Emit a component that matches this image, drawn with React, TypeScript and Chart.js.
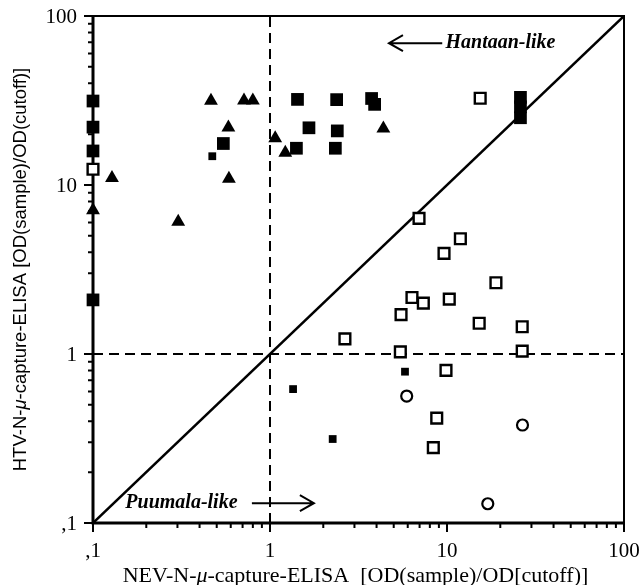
import React, { useEffect, useRef } from 'react';
import { Chart, registerables } from 'chart.js';

Chart.register(...registerables);

// ---- axis ticks ----
const decadeTicks = [0.1, 1, 10, 100];
const decadeLabels = [',1', '1', '10', '100'];
const minorMultipliers = [2, 3, 4, 5, 6, 7, 8, 9];

// ---- series (x = NEV ratio, y = HTV ratio) ----
const bigFilledSqX = [0.1, 0.1, 0.1, 0.1, 0.545, 1.43, 2.38, 3.75, 3.9, 1.66, 2.4, 1.41, 2.34, 26, 26, 26];
const bigFilledSqY = [31.4, 22, 15.9, 2.09, 17.6, 32.1, 32, 32.5, 30, 21.8, 20.9, 16.5, 16.5, 33, 29, 25];

const smallFilledSqX = [0.472, 1.35, 2.26, 5.79];
const smallFilledSqY = [14.8, 0.62, 0.314, 0.786];

const triangleX = [0.1, 0.128, 0.303, 0.464, 0.582, 0.586, 0.713, 0.8, 1.07, 1.22, 4.37];
const triangleY = [7.1, 11.0, 6.07, 31.5, 21.9, 10.9, 31.6, 31.6, 18.9, 15.5, 21.6];

const openSqX = [0.1, 15.4, 6.95, 11.9, 9.62, 18.9, 6.34, 7.35, 10.3, 5.5, 15.2, 26.6, 2.65, 5.45, 26.6, 9.87, 8.75, 8.37];
const openSqY = [12.4, 32.6, 6.35, 4.81, 3.94, 2.64, 2.16, 2.0, 2.11, 1.71, 1.52, 1.45, 1.23, 1.03, 1.04, 0.8, 0.417, 0.279];

const openCircleX = [5.92, 26.7, 17.0];
const openCircleY = [0.564, 0.38, 0.13];

// reference lines
const diagonalX = [0.1, 100];
const diagonalY = [0.1, 100];
const cutoff = 1;
const axisMin = 0.1;
const axisMax = 100;

const xTitleParts = [
  { t: 'NEV-N-', i: false },
  { t: 'μ', i: true },
  { t: '-capture-ELISA  [OD(sample)/OD[cutoff)]', i: false },
];
const yTitleParts = [
  { t: 'HTV-N-', i: false },
  { t: 'μ', i: true },
  { t: '-capture-ELISA [OD(sample)/OD(cutoff)]', i: false },
];

const zip = (xs: number[], ys: number[]) => xs.map((x, i) => ({ x, y: ys[i] }));

const SERIF = '"Liberation Serif", "DejaVu Serif", serif';
const SANS = '"Liberation Sans", Arial, sans-serif';

function drawRich(ctx: CanvasRenderingContext2D, parts: { t: string; i: boolean }[], size: number, family: string) {
  const widths = parts.map((p) => {
    ctx.font = `${p.i ? 'italic ' : ''}${size}px ${family}`;
    return ctx.measureText(p.t).width;
  });
  const total = widths.reduce((a, b) => a + b, 0);
  let cx = -total / 2;
  parts.forEach((p, k) => {
    ctx.font = `${p.i ? 'italic ' : ''}${size}px ${family}`;
    ctx.fillText(p.t, cx, 0);
    cx += widths[k];
  });
}

const framePlugin = {
  id: 'frameTicks',
  beforeDatasetsDraw(chart: any) {
    const { ctx, chartArea: a, scales } = chart;
    const xs = scales.x;
    const ys = scales.y;
    ctx.save();
    ctx.strokeStyle = '#000';
    ctx.lineWidth = 2;
    ctx.strokeRect(a.left, a.top, a.right - a.left, a.bottom - a.top);
    ctx.lineWidth = 3;
    ctx.beginPath();
    ctx.moveTo(a.left, a.top);
    ctx.lineTo(a.left, a.bottom);
    ctx.lineTo(a.right, a.bottom);
    ctx.stroke();
    ctx.lineWidth = 2;
    const vals: { v: number; major: boolean }[] = [];
    decadeTicks.forEach((d, k) => {
      vals.push({ v: d, major: true });
      if (k < decadeTicks.length - 1) minorMultipliers.forEach((m) => vals.push({ v: d * m, major: false }));
    });
    ctx.beginPath();
    vals.forEach(({ v, major }) => {
      const px = xs.getPixelForValue(v);
      ctx.moveTo(px, a.bottom);
      ctx.lineTo(px, a.bottom + (major ? 9 : 5));
      const py = ys.getPixelForValue(v);
      ctx.moveTo(a.left - (major ? 9 : 5), py);
      ctx.lineTo(a.left, py);
    });
    ctx.stroke();
    ctx.restore();
  },
  afterDraw(chart: any) {
    const { ctx, chartArea: a, scales } = chart;
    const xs = scales.x;
    const ys = scales.y;
    ctx.save();
    ctx.fillStyle = '#000';
    ctx.strokeStyle = '#000';
    ctx.font = `21px ${SERIF}`;
    // tick labels
    decadeTicks.forEach((v, k) => {
      ctx.textAlign = 'center';
      ctx.textBaseline = 'middle';
      ctx.fillText(decadeLabels[k], xs.getPixelForValue(v), a.bottom + 28);
      ctx.textAlign = 'right';
      ctx.fillText(decadeLabels[k], a.left - 16, ys.getPixelForValue(v) + 1);
    });
    // axis titles
    ctx.textAlign = 'left';
    ctx.textBaseline = 'middle';
    ctx.save();
    ctx.translate((a.left + a.right) / 2 - 3, a.bottom + 53);
    drawRich(ctx, xTitleParts, 22, SERIF);
    ctx.restore();
    ctx.save();
    ctx.translate(21, (a.top + a.bottom) / 2);
    ctx.rotate(-Math.PI / 2);
    drawRich(ctx, yTitleParts, 18.5, SANS);
    ctx.restore();

    // annotations
    ctx.font = `italic bold 20px ${SERIF}`;
    ctx.textBaseline = 'middle';
    const hy = ys.getPixelForValue(69);
    const hTip = xs.getPixelForValue(4.7);
    const hTail = xs.getPixelForValue(9.4);
    ctx.textAlign = 'left';
    ctx.fillText('Hantaan-like', xs.getPixelForValue(9.8), hy);
    ctx.lineWidth = 2;
    ctx.beginPath();
    ctx.moveTo(hTail, hy);
    ctx.lineTo(hTip, hy);
    ctx.moveTo(hTip + 14, hy - 8);
    ctx.lineTo(hTip, hy);
    ctx.lineTo(hTip + 14, hy + 8);
    ctx.stroke();

    const py = ys.getPixelForValue(0.131);
    const pTail = xs.getPixelForValue(0.79);
    const pTip = xs.getPixelForValue(1.77);
    ctx.textAlign = 'center';
    ctx.fillText('Puumala-like', xs.getPixelForValue(0.316), py);
    ctx.beginPath();
    ctx.moveTo(pTail, py);
    ctx.lineTo(pTip, py);
    ctx.moveTo(pTip - 14, py - 8);
    ctx.lineTo(pTip, py);
    ctx.lineTo(pTip - 14, py + 8);
    ctx.stroke();
    ctx.restore();
  },
};

export default function App() {
  const ref = useRef<HTMLCanvasElement | null>(null);
  useEffect(() => {
    if (!ref.current) return;
    const chart = new Chart(ref.current, {
      type: 'scatter',
      data: {
        datasets: [
          {
            label: 'HTV filled large',
            data: zip(bigFilledSqX, bigFilledSqY),
            pointStyle: 'rect',
            pointRadius: 9,
            backgroundColor: '#000',
            borderColor: '#000',
            borderWidth: 0,
            clip: false,
          } as any,
          {
            label: 'HTV filled small',
            data: zip(smallFilledSqX, smallFilledSqY),
            pointStyle: 'rect',
            pointRadius: 5.5,
            backgroundColor: '#000',
            borderColor: '#000',
            borderWidth: 0,
            clip: false,
          },
          {
            label: 'triangles',
            data: zip(triangleX, triangleY),
            pointStyle: 'triangle',
            pointRadius: 8,
            backgroundColor: '#000',
            borderColor: '#000',
            borderWidth: 0,
            clip: false,
          },
          {
            label: 'open squares',
            data: zip(openSqX, openSqY),
            pointStyle: 'rect',
            pointRadius: 7.6,
            backgroundColor: '#fff',
            borderColor: '#000',
            borderWidth: 2.4,
            clip: false,
          },
          {
            label: 'open circles',
            data: zip(openCircleX, openCircleY),
            pointStyle: 'circle',
            pointRadius: 5.5,
            backgroundColor: '#fff',
            borderColor: '#000',
            borderWidth: 2.2,
            clip: false,
          },
          {
            label: 'diagonal',
            data: zip(diagonalX, diagonalY),
            showLine: true,
            pointRadius: 0,
            borderColor: '#000',
            borderWidth: 2.5,
          },
          {
            label: 'x cutoff',
            data: [
              { x: cutoff, y: axisMin },
              { x: cutoff, y: axisMax },
            ],
            showLine: true,
            pointRadius: 0,
            borderColor: '#000',
            borderWidth: 2,
            borderDash: [10, 6],
          },
          {
            label: 'y cutoff',
            data: [
              { x: axisMin, y: cutoff },
              { x: axisMax, y: cutoff },
            ],
            showLine: true,
            pointRadius: 0,
            borderColor: '#000',
            borderWidth: 2,
            borderDash: [10, 6],
          },
        ],
      },
      options: {
        responsive: false,
        animation: false,
        events: [],
        layout: { padding: { left: 0, right: 18, top: 16, bottom: 0 }, autoPadding: false } as any,
        plugins: { legend: { display: false }, tooltip: { enabled: false } },
        scales: {
          x: {
            type: 'logarithmic',
            min: axisMin,
            max: axisMax,
            grid: { display: false },
            border: { display: false },
            ticks: { display: false },
            afterFit: (s: any) => {
              s.height = 62;
            },
          },
          y: {
            type: 'logarithmic',
            min: axisMin,
            max: axisMax,
            grid: { display: false },
            border: { display: false },
            ticks: { display: false },
            afterFit: (s: any) => {
              s.width = 93;
            },
          },
        },
      },
      plugins: [framePlugin],
    });
    return () => chart.destroy();
  }, []);
  return (
    <div style={{ position: 'fixed', left: 0, top: 0, width: 642, height: 585, background: '#fff' }}>
      <canvas ref={ref} width={642} height={585} style={{ display: 'block' }} />
    </div>
  );
}
